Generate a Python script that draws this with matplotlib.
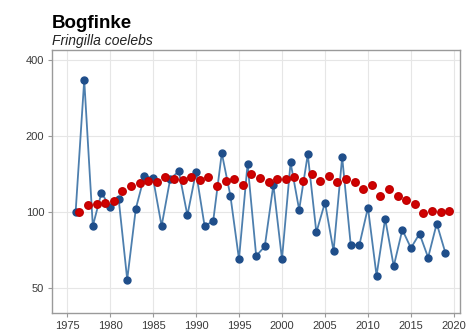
import numpy as np
import matplotlib
matplotlib.use("Agg")
import matplotlib.pyplot as plt
from matplotlib.ticker import FixedLocator, FixedFormatter, NullLocator

plt.rcParams['font.family'] = ['Liberation Sans', 'DejaVu Sans']

# yearly index (blue) and smoothed trend (red), index 1976 = 100
years = list(range(1976, 2020))
index_values = [100, 333, 88, 119, 105, 113, 54, 103, 139, 136,
                 88, 135, 145, 97, 144, 88, 92, 171, 116, 65,
                 155, 67, 73, 128, 65, 157, 102, 169, 83, 109,
                 70, 165, 74, 74, 104, 56, 94, 61, 85, 72,
                 82, 66, 90, 69]
trend_values = [100, 107, 108, 109, 111, 121, 127, 130, 133, 132,
                137, 135, 134, 138, 134, 138, 127, 133, 135, 128,
                142, 136, 132, 135, 135, 137, 133, 142, 133, 139,
                132, 135, 132, 123, 128, 116, 123, 116, 112, 108,
                99, 101, 100, 101]
y_ticks = [50, 100, 200, 400]
x_ticks = list(range(1975, 2021, 5))

fig = plt.figure(figsize=(4.7, 3.33), dpi=100)
ax = fig.add_axes([0.1106, 0.06, 0.868, 0.79])

yrs = np.array(years)
ax.plot(yrs, index_values, color="#4d7fae", lw=1.3, zorder=2)
ax.plot(yrs, index_values, "o", color="#1f4e8a", ms=5.0, mec="#1f4e8a", zorder=3)
ax.plot(yrs + 0.45, trend_values, "o", color="#d00000", ms=5.4, mec="#c00000", zorder=4)

ax.set_yscale("log")
ax.set_ylim(39.8, 438)
ax.set_xlim(1973.25, 2020.7)
ax.yaxis.set_major_locator(FixedLocator(y_ticks))
ax.yaxis.set_major_formatter(FixedFormatter([str(t) for t in y_ticks]))
ax.yaxis.set_minor_locator(NullLocator())
ax.set_xticks(x_ticks)
ax.set_xticklabels([str(t) for t in x_ticks])

ax.grid(True, color="#e6e6e6", lw=0.8, zorder=0)
ax.set_axisbelow(True)
for s in ax.spines.values():
    s.set_color("#9a9a9a")
    s.set_linewidth(1.0)
ax.tick_params(axis="both", colors="#9a9a9a", labelcolor="#3a3a3a",
               labelsize=8, length=3, width=0.8, pad=2.5)

fig.text(52 / 470, 1 - 28.5 / 333, "Bogfinke", fontsize=13.5, fontweight="bold",
         color="black", ha="left", va="baseline")
fig.text(52 / 470, 1 - 45.5 / 333, "Fringilla coelebs", fontsize=10, style="italic",
         color="#222222", ha="left", va="baseline")

fig.savefig("out.png", dpi=100)
